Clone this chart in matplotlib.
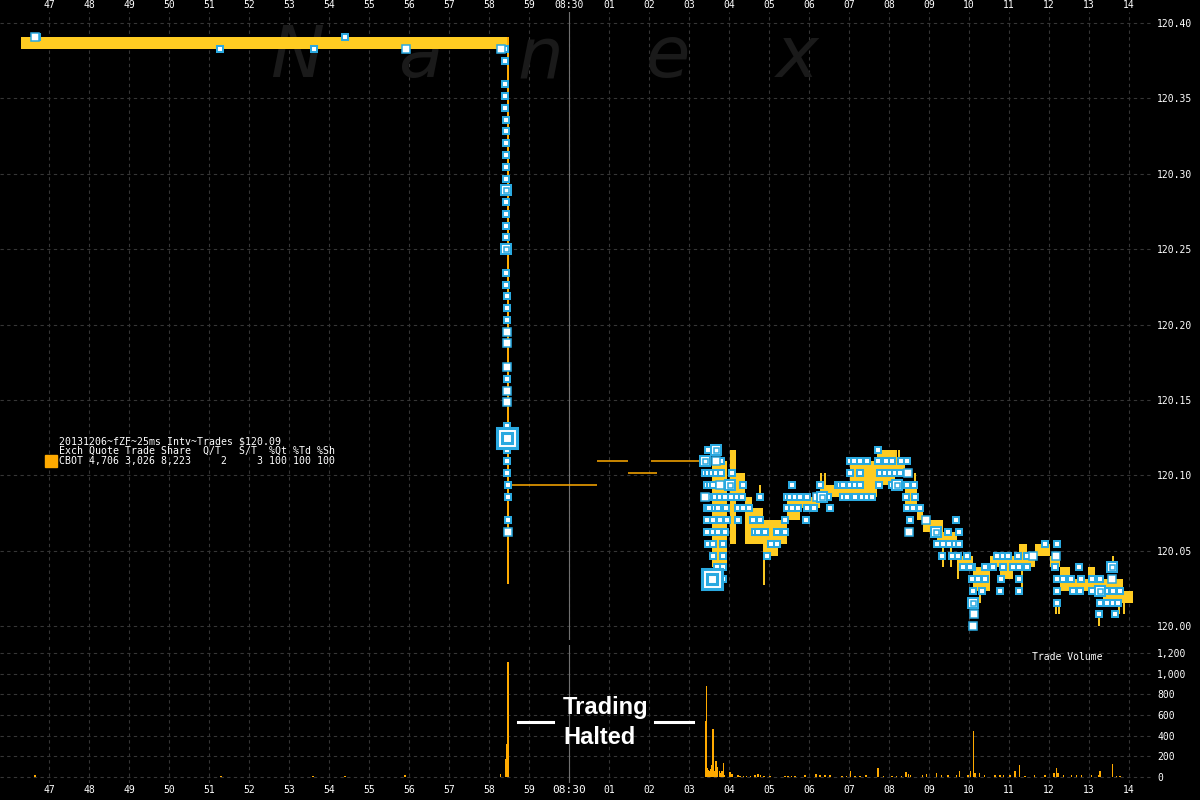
import matplotlib
matplotlib.use("Agg")
import matplotlib.pyplot as plt
from matplotlib.patches import Rectangle
from matplotlib.lines import Line2D

plt.rcParams['font.family'] = ['DejaVu Sans Mono']

BASE = 120.0
TICK = 1 / 128  # fZF price increment (quarter of 1/32)

# time axis: seconds relative to 08:30:00
sec_ticks = list(range(-13, 15))
sec_labels = ["47", "48", "49", "50", "51", "52", "53", "54", "55", "56", "57", "58", "59",
              "08:30", "01", "02", "03", "04", "05", "06", "07", "08", "09", "10", "11",
              "12", "13", "14"]
price_ticks = [120.00, 120.05, 120.10, 120.15, 120.20, 120.25, 120.30, 120.35, 120.40]
vol_ticks = [0, 200, 400, 600, 800, 1000, 1200]
vol_labels = ["0", "200", "400", "600", "800", "1,000", "1,200"]

# quote band (bid..ask envelope), prices in ticks above 120
band_t0 = [-13.7, 3.575, 4.025, 4.175, 4.4, 4.575, 4.85, 5.2, 5.45, 5.775, 6.275, 7.025,
           7.7, 8.15, 8.4, 8.7, 8.85, 9.2, 9.7, 10.1, 10.525, 10.775, 11.25, 11.45, 11.65,
           12.025, 12.275, 12.525, 12.975, 13.35, 13.85]
band_t1 = [-1.5, 3.95, 4.175, 4.4, 4.575, 4.85, 5.225, 5.45, 5.775, 6.275, 7.025, 7.7,
           8.15, 8.4, 8.7, 8.85, 9.35, 9.7, 10.1, 10.525, 11.275, 11.1, 11.45, 11.65, 12.025,
           12.275, 12.525, 13.35, 13.15, 13.85, 14.1]
band_lo = [49, 5, 7, 11, 7, 7, 6, 7, 9, 10, 11, 11, 12, 13, 10, 9, 8, 7, 5, 3, 5, 4, 5, 5, 6,
           5, 3, 3, 4, 2, 2]
band_hi = [50, 14, 15, 13, 11, 10, 9, 9, 11, 11, 12, 14, 15, 14, 12, 10, 9, 8, 6, 5, 6, 5, 7,
           6, 7, 6, 5, 4, 5, 4, 3]

# thin quote spikes
wick_t = [-1.53, 4.425, 4.775, 4.875, 5.6, 6.3, 6.4, 7.125, 7.2, 8.175, 8.25, 8.65, 9.35, 9.55,
          9.725, 10.275, 11.325, 12.175, 12.25, 13.25, 13.6, 13.75, 13.875]
wick_lo = [3.6, 7, 11, 3.5, 9, 12, 12, 12, 12, 14, 14, 10, 5, 5, 4, 2, 3, 1, 1, 0, 5, 1, 1]
wick_hi = [50, 11, 12, 7, 10, 13, 13, 14, 14, 15, 15, 13, 8, 7, 6, 5, 5, 2, 2, 1, 6, 4, 2]

# indicative quote during the halt
halt_t0 = [-1.47, 0.7, 1.47, 2.05]
halt_t1 = [0.7, 1.47, 2.2, 3.3]
halt_k = [12, 14, 13, 14]

# trades: time (s), price (ticks), marker size class
pre_t = [-13.35, -13.3, -8.725, -6.375, -5.6, -4.075, -1.7, -1.6,
         -1.59, -1.59, -1.59, -1.59, -1.585, -1.58, -1.58, -1.58, -1.58, -1.575, -1.58,
         -1.575, -1.575, -1.57, -1.57, -1.57, -1.565, -1.565, -1.56, -1.56, -1.56, -1.555,
         -1.555, -1.55, -1.55, -1.55, -1.55, -1.545, -1.545, -1.54, -1.54, -1.54, -1.535,
         -1.535, -1.535, -1.53]
pre_k = [50, 50, 49, 49, 50, 49, 49, 49,
         48, 46, 45, 44, 43, 42, 41, 40, 39, 38, 37, 36, 35, 34, 33, 32, 30, 29, 28, 27, 26,
         25, 24, 22, 21, 20, 19, 17, 16, 15, 14, 13, 12, 11, 9, 8]
pre_sz = [1, 0, 0, 0, 0, 1, 1, 0,
          0, 0, 0, 0, 0, 0, 0, 0, 0, 0, 2, 0, 0, 0, 0, 2, 0, 0, 0, 0, 0,
          1, 1, 1, 0, 1, 1, 0, 3, 0, 0, 0, 0, 0, 0, 1]

post_t = [3.48, 3.675, 3.4, 3.675, 3.79,
          3.4, 3.48, 3.57, 3.675, 3.79, 4.07,
          3.44, 3.525, 3.61, 3.775, 4.025, 4.34, 5.57, 6.275, 6.73,
          3.4, 3.48, 3.65, 3.775, 3.9, 4.04, 4.19, 4.32, 4.775, 5.44, 5.525, 5.65, 5.775,
          5.94, 6.19, 6.32, 6.48,
          3.44, 3.51, 3.65, 3.73, 3.925, 4.22, 4.34, 4.51, 5.44, 5.58, 5.72, 5.94, 6.13, 6.525,
          3.44, 3.61, 3.775, 3.94, 4.22, 4.61, 4.775, 5.4, 5.92,
          3.44, 3.61, 3.73, 3.9, 4.65, 4.73, 4.9, 5.19, 5.4,
          3.48, 3.59, 3.84, 5.04, 5.19,
          3.59, 3.84, 4.94,
          3.69, 3.84,
          3.57, 3.84,
          7.72,
          7.025, 7.125, 7.275, 7.44, 7.72, 7.925, 8.07, 8.29, 8.44,
          7.025, 7.275, 7.775, 7.9, 8.025, 8.15, 8.275, 8.47,
          6.775, 6.86, 7.025, 7.15, 7.275, 7.76, 8.07, 8.19, 8.44, 8.625,
          6.86, 6.94, 7.15, 7.32, 7.44, 7.57, 8.425, 8.65,
          8.44, 8.61, 8.775,
          8.525, 8.915, 9.675,
          8.5, 9.175, 9.47, 9.74,
          9.19, 9.34, 9.51, 9.65, 9.74,
          9.325, 9.57, 9.735, 9.94,
          9.86, 10.07,
          10.07, 10.19,
          11.9, 12.19,
          10.69, 10.86, 10.985, 11.235, 11.44, 11.61, 12.175,
          10.025, 10.4, 10.61, 10.86, 11.11, 11.26, 11.44, 12.15, 12.75, 13.565,
          10.07, 10.23, 10.4, 10.79, 11.25, 12.19, 12.36, 12.55, 12.8, 13.07, 13.275, 13.565,
          10.11, 10.32, 10.775, 11.25, 12.21, 12.61, 12.775, 13.07, 13.275, 13.425, 13.61, 13.775,
          10.11, 12.21, 13.275, 13.44, 13.61, 13.735,
          10.125, 13.26, 13.65,
          10.11]
post_k = [15, 15, 14, 14, 14,
          13, 13, 13, 13, 13, 13,
          12, 12, 12, 12, 12, 12, 12, 12, 12,
          11, 11, 11, 11, 11, 11, 11, 11, 11, 11, 11, 11, 11, 11, 11, 11, 11,
          10, 10, 10, 10, 10, 10, 10, 10, 10, 10, 10, 10, 10, 10,
          9, 9, 9, 9, 9, 9, 9, 9, 9,
          8, 8, 8, 8, 8, 8, 8, 8, 8,
          7, 7, 7, 7, 7,
          6, 6, 6,
          5, 5,
          4, 4,
          15,
          14, 14, 14, 14, 14, 14, 14, 14, 14,
          13, 13, 13, 13, 13, 13, 13, 13,
          12, 12, 12, 12, 12, 12, 12, 12, 12, 12,
          11, 11, 11, 11, 11, 11, 11, 11,
          10, 10, 10,
          9, 9, 9,
          8, 8, 8, 8,
          7, 7, 7, 7, 7,
          6, 6, 6, 6,
          5, 5,
          4, 4,
          7, 7,
          6, 6, 6, 6, 6, 6, 6,
          5, 5, 5, 5, 5, 5, 5, 5, 5, 5,
          4, 4, 4, 4, 4, 4, 4, 4, 4, 4, 4, 4,
          3, 3, 3, 3, 3, 3, 3, 3, 3, 3, 3, 3,
          2, 2, 2, 2, 2, 2,
          1, 1, 1,
          0]
post_sz = [0, 2, 2, 1, 0,
           0, 0, 0, 0, 0, 0,
           0, 0, 0, 1, 2, 0, 0, 0, 0,
           1, 0, 0, 0, 0, 0, 0, 0, 0, 0, 0, 0, 0, 0, 1, 2, 0,
           0, 0, 0, 0, 0, 0, 0, 0, 0, 0, 0, 0, 0, 0,
           0, 0, 0, 0, 0, 0, 0, 0, 0,
           0, 0, 0, 0, 0, 0, 0, 0, 0,
           0, 0, 0, 0, 0,
           0, 0, 0,
           0, 0,
           3, 0,
           0,
           0, 0, 0, 0, 0, 0, 0, 0, 0,
           0, 0, 0, 0, 0, 0, 0, 1,
           0, 0, 0, 0, 0, 0, 0, 2, 0, 0,
           0, 0, 0, 0, 0, 0, 0, 0,
           0, 0, 0,
           0, 1, 0,
           1, 2, 0, 0,
           0, 0, 0, 0, 0,
           0, 0, 0, 0,
           0, 0,
           0, 0,
           0, 0,
           0, 0, 0, 0, 0, 1, 1,
           0, 0, 0, 0, 0, 0, 0, 0, 0, 2,
           0, 0, 0, 0, 0, 0, 0, 0, 0, 0, 0, 1,
           0, 0, 0, 0, 0, 0, 0, 0, 2, 0, 0, 0,
           2, 0, 0, 0, 0, 0,
           1, 0, 0,
           1]

# trade volume
vol_t = [-13.35, -8.7, -6.4, -5.6, -4.1, -1.71, -1.59, -1.56, -1.52,
         3.41, 3.435, 3.46, 3.48, 3.51, 3.54, 3.575, 3.6, 3.633, 3.675, 3.71, 3.76, 3.79,
         3.83, 3.86, 3.89, 4.025, 4.07, 4.22, 4.275, 4.36, 4.44, 4.54, 4.65, 4.73, 4.79,
         4.875, 5.025, 5.4, 5.48, 5.565, 5.65, 5.9, 6.175, 6.275, 6.4, 6.525, 6.82, 6.94,
         7.04, 7.15, 7.275, 7.425, 7.73, 7.86, 8.07, 8.19, 8.315, 8.425, 8.485, 8.54, 8.84,
         8.94, 9.19, 9.315, 9.48, 9.69, 9.76, 9.98, 10.04, 10.11, 10.15, 10.26, 10.39,
         10.65, 10.775, 10.86, 11.025, 11.15, 11.26, 11.4, 11.635, 11.9, 12.13, 12.19,
         12.23, 12.36, 12.565, 12.69, 12.815, 13.065, 13.235, 13.275, 13.585, 13.69, 13.775]
vol_v = [20, 10, 10, 10, 15, 25, 170, 320, 1110,
         539, 884, 87, 70, 55, 77, 120, 468, 55, 158, 94, 55, 39,
         55, 139, 23, 48, 29, 16, 10, 10, 10, 10, 23, 32, 16,
         10, 8, 10, 13, 13, 10, 23, 32, 16, 16, 16, 10, 10,
         61, 13, 10, 16, 90, 10, 10, 13, 10, 48, 29, 23, 16,
         32, 39, 16, 16, 23, 55, 16, 61, 449, 39, 39, 16,
         23, 23, 23, 23, 61, 120, 8, 23, 23, 39, 90,
         39, 16, 16, 16, 16, 16, 23, 55, 129, 8, 8]

YELLOW = '#ffcc22'
ORANGE = '#ffaa00'
CYAN = '#2aa9e0'
GRID = '#363636'

fig = plt.figure(figsize=(12, 8), dpi=100, facecolor='black')
ax = fig.add_axes([0, 0.2, 1153 / 1200, 0.785], facecolor='black')
axv = fig.add_axes([0, 17 / 800, 1153 / 1200, 138 / 800], facecolor='black')

for a in (ax, axv):
    a.set_xlim(-14.225, 14.6)
    a.set_xticks(sec_ticks)
    a.set_xticklabels(sec_labels)
    a.grid(True, color=GRID, linestyle=(0, (3, 3)), linewidth=0.8)
    a.set_axisbelow(True)
    a.yaxis.tick_right()
    a.tick_params(length=0, colors='white', labelsize=7)
    a.tick_params(axis='y', pad=3)
    for s in a.spines.values():
        s.set_visible(False)
    a.axvline(0, color='#707070', lw=0.8, zorder=0.8)
    for lab in a.get_xticklabels():
        if lab.get_text() == "08:30":
            lab.set_fontsize(8)

ax.tick_params(axis='x', top=True, labeltop=True, bottom=False, labelbottom=False, pad=1.5)
ax.set_ylim(119.9909, 120.4073)
ax.set_yticks(price_ticks)
ax.set_yticklabels(["%.2f" % p for p in price_ticks])

axv.set_ylim(-58, 1278)
axv.set_yticks(vol_ticks)
axv.set_yticklabels(vol_labels)
axv.tick_params(axis='x', pad=1.5)

# watermark
for ch, xp in zip("Nanex", [297, 420, 540, 668, 797]):
    ax.text(xp / 1200, 1 - 77 / 800, ch, transform=fig.transFigure, fontsize=52,
            style='italic', family='DejaVu Sans', color='#1a1a1a', ha='center',
            va='baseline', zorder=0.6)

# quote band
widths = [b - a for a, b in zip(band_t0, band_t1)]
heights = [(h - l) * TICK for l, h in zip(band_lo, band_hi)]
bottoms = [BASE + l * TICK for l in band_lo]
ax.bar(band_t0, heights, width=widths, bottom=bottoms, align='edge', color=YELLOW,
       linewidth=0, zorder=2)
ax.vlines(wick_t, [BASE + k * TICK for k in wick_lo], [BASE + k * TICK for k in wick_hi],
          color=YELLOW, lw=1.4, zorder=2)
ax.vlines(wick_t[0], BASE + wick_lo[0] * TICK, BASE + wick_hi[0] * TICK, color=ORANGE,
          lw=1.4, zorder=2.1)
ax.hlines([BASE + k * TICK for k in halt_k], halt_t0, halt_t1, color=ORANGE, lw=1.1, zorder=2)

# trades
all_t = pre_t + post_t
all_p = [BASE + k * TICK for k in pre_k + post_k]
all_sz = pre_sz + post_sz
styles = {0: [(4.3, 1.45)], 1: [(6.1, 1.1)], 2: [(7.9, 1.45), (3.6, 1.1)],
          3: [(13.7, 2.2), (7.0, 2.2)]}
for sz, layers in styles.items():
    ts = [t for t, s in zip(all_t, all_sz) if s == sz]
    ps = [p for p, s in zip(all_p, all_sz) if s == sz]
    for i, (ms, mew) in enumerate(layers):
        ax.plot(ts, ps, 's', ms=ms, mfc='white', mec=CYAN, mew=mew, ls='none',
                zorder=3 + sz * 0.1 + i * 0.01)

# volume
axv.bar(vol_t, vol_v, width=0.04, color=ORANGE, linewidth=0, zorder=2)
axv.text(1032 / 1200, 1 - 657 / 800, "Trade Volume", transform=fig.transFigure,
         color='white', fontsize=7, va='center')

# legend block
legend_lines = ["20131206~fZF~25ms Intv~Trades $120.09",
                "Exch Quote Trade Share  Q/T   S/T  %Qt %Td %Sh",
                "CBOT 4,706 3,026 8,223     2     3 100 100 100"]
for line, yb in zip(legend_lines, [444, 454, 464]):
    fig.text(59 / 1200, 1 - yb / 800, line, color='white', fontsize=7.1, va='baseline')
fig.patches.append(Rectangle((45 / 1200, 1 - 467 / 800), 12 / 1200, 12 / 800,
                             transform=fig.transFigure, color=ORANGE))

# halt annotation
fig.text(563 / 1200, 1 - 714 / 800, "Trading", family='Liberation Sans', weight='bold',
         fontsize=17, color='white', va='baseline')
fig.text(563 / 1200, 1 - 744 / 800, "Halted", family='Liberation Sans', weight='bold',
         fontsize=17, color='white', va='baseline')
for x0, x1 in [(518, 553), (655, 693)]:
    fig.add_artist(Line2D([x0 / 1200, x1 / 1200], [1 - 722 / 800] * 2, color='white',
                          lw=2.2, transform=fig.transFigure))

fig.savefig("out.png", dpi=100, facecolor='black')
